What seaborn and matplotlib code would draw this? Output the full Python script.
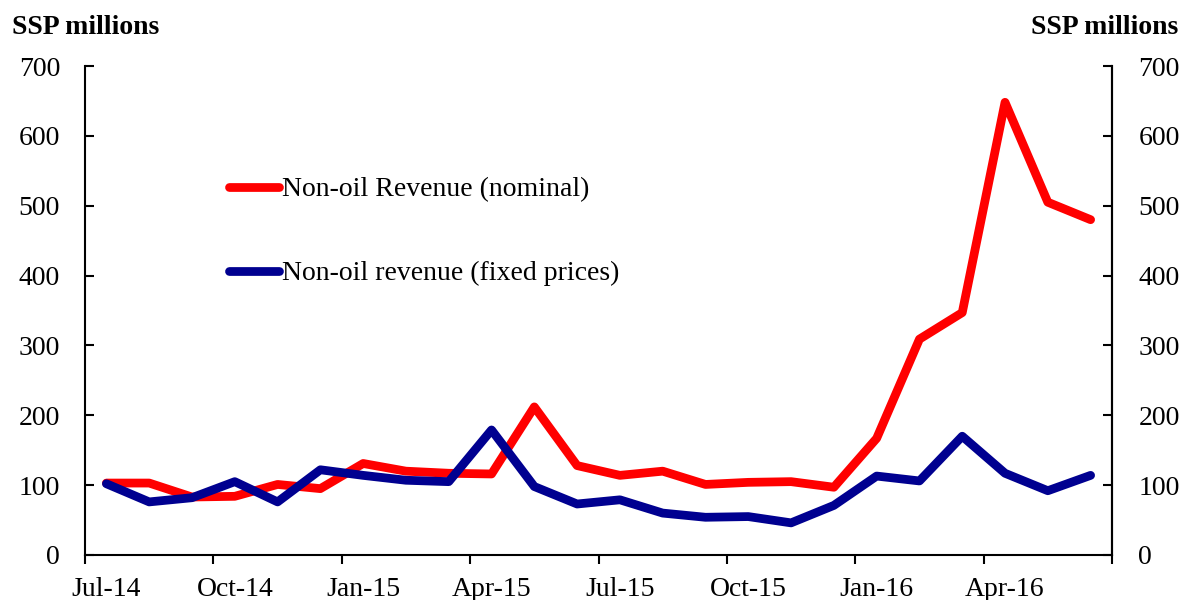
import numpy as np
import pandas as pd
import matplotlib
matplotlib.use("Agg")
import matplotlib.pyplot as plt
import seaborn as sns

# monthly data, Jul-14 .. Jun-16 (SSP millions)
months = ["Jul-14", "Aug-14", "Sep-14", "Oct-14", "Nov-14", "Dec-14",
          "Jan-15", "Feb-15", "Mar-15", "Apr-15", "May-15", "Jun-15",
          "Jul-15", "Aug-15", "Sep-15", "Oct-15", "Nov-15", "Dec-15",
          "Jan-16", "Feb-16", "Mar-16", "Apr-16", "May-16", "Jun-16"]
nominal = [103, 103, 83, 84, 101, 95, 131, 120, 117, 116, 212, 128,
           114, 120, 101, 104, 105, 97, 167, 309, 347, 648, 505, 480]
fixed = [102, 76, 82, 105, 76, 122, 114, 107, 105, 179, 98, 73,
         79, 60, 54, 55, 46, 71, 113, 106, 170, 117, 92, 114]
series_names = ["Non-oil Revenue (nominal)", "Non-oil revenue (fixed prices)"]
series_colors = ["#ff0000", "#000090"]
y_ticks = [0, 100, 200, 300, 400, 500, 600, 700]
unit_label = "SSP millions"

df = pd.DataFrame({
    "idx": list(range(len(months))) * 2,
    "value": nominal + fixed,
    "series": [series_names[0]] * len(months) + [series_names[1]] * len(months),
})

sns.set_theme(style="white")
plt.rcParams["font.family"] = ["Liberation Serif", "DejaVu Serif"]
plt.rcParams["text.color"] = "black"
plt.rcParams["xtick.color"] = "black"
plt.rcParams["ytick.color"] = "black"
plt.rcParams["xtick.labelcolor"] = "black"
plt.rcParams["ytick.labelcolor"] = "black"
FS = 20

fig = plt.figure(figsize=(11.84, 6), dpi=100)
ax = fig.add_axes([0.0718, 0.075, 0.8674, 0.815])

sns.lineplot(data=df, x="idx", y="value", hue="series", hue_order=series_names,
             palette=dict(zip(series_names, series_colors)), linewidth=6.3,
             solid_capstyle="round", solid_joinstyle="round", ax=ax, legend=False)

n = len(months)
ax.set_xlim(-0.5, n - 0.5)
ax.set_ylim(0, 700)
ax.set_xlabel("")
ax.set_ylabel("")

# ticks between categories, labels on category centres (every quarter)
ax.set_xticks(np.arange(-0.5, n, 3))
ax.set_xticklabels([])
ax.set_xticks(np.arange(0, n, 3), minor=True)
ax.set_xticklabels(months[::3], minor=True, fontsize=FS)
ax.tick_params(axis="x", which="major", direction="out", length=6.5, width=1.5,
               color="black", bottom=True)
ax.tick_params(axis="x", which="minor", length=0, pad=16, bottom=True)

ax.set_yticks(y_ticks)
ax.set_yticklabels([str(v) for v in y_ticks], fontsize=FS)
ax.tick_params(axis="y", direction="in", length=6.5, width=1.5, color="black",
               pad=18, left=True)

for side in ["left", "bottom", "right"]:
    ax.spines[side].set_visible(True)
    ax.spines[side].set_color("black")
    ax.spines[side].set_linewidth(1.5)
ax.spines["top"].set_visible(False)

ax2 = ax.twinx()
ax2.set_ylim(ax.get_ylim())
ax2.set_yticks(y_ticks)
ax2.set_yticklabels([str(v) for v in y_ticks], fontsize=FS)
ax2.tick_params(axis="y", direction="in", length=6.5, width=1.5, color="black",
                pad=19, right=True)
for side in ["left", "bottom", "top"]:
    ax2.spines[side].set_visible(False)
ax2.spines["right"].set_color("black")
ax2.spines["right"].set_linewidth(1.5)
ax2.grid(False)

handles = ax.get_lines()[:2]
leg = ax.legend(handles, series_names, loc="upper left",
                bbox_to_anchor=(0.140, 0.773), frameon=False, fontsize=FS,
                handlelength=1.8, handletextpad=0.12, labelspacing=2.1,
                borderpad=0, borderaxespad=0)

fig.text(12 / 1184, 1 - 28 / 600, unit_label, fontsize=FS, fontweight="bold",
         ha="left", va="center")
fig.text(1178 / 1184, 1 - 28 / 600, unit_label, fontsize=FS, fontweight="bold",
         ha="right", va="center")

fig.savefig("out.png", dpi=100)
